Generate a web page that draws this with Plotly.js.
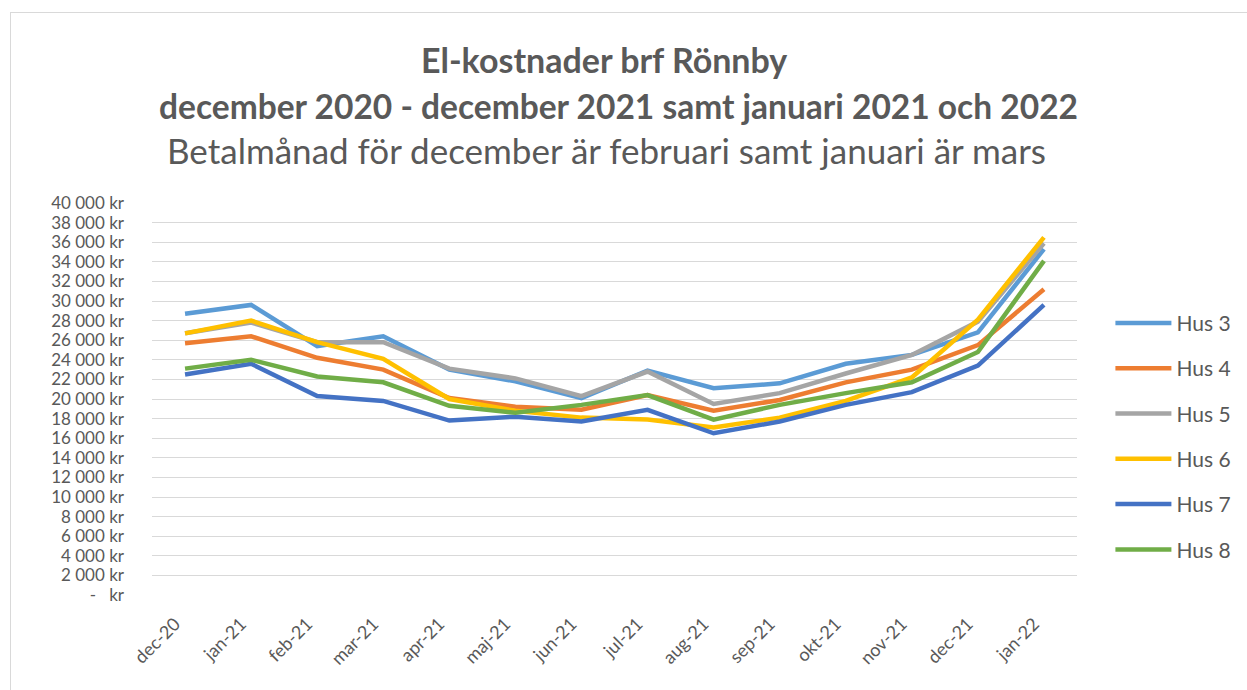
<!DOCTYPE html>
<html>
<head>
<meta charset="utf-8">
<script src="https://cdn.plot.ly/plotly-3.0.1.min.js"></script>
<style>
  html, body { margin:0; padding:0; width:1247px; height:690px; overflow:hidden; background:#fff; }
  #frame { position:absolute; left:10px; top:12px; width:1400px; height:900px; border:1px solid #d9d9d9; box-sizing:border-box; }
  #chart { position:absolute; left:0; top:0; width:1247px; height:690px; }
</style>
</head>
<body>
<div id="frame"></div>
<div id="chart"></div>
<script>
const months = ["dec-20","jan-21","feb-21","mar-21","apr-21","maj-21","jun-21","jul-21","aug-21","sep-21","okt-21","nov-21","dec-21","jan-22"];
const hus3 = [28700, 29600, 25400, 26400, 23000, 21800, 20100, 22900, 21100, 21600, 23600, 24500, 26800, 35300];
const hus4 = [25700, 26400, 24200, 23000, 20100, 19200, 18900, 20400, 18800, 19900, 21700, 23000, 25500, 31200];
const hus5 = [26700, 27800, 25800, 25800, 23100, 22100, 20300, 22800, 19500, 20600, 22600, 24500, 27900, 35900];
const hus6 = [26700, 28000, 25800, 24100, 20000, 18800, 18100, 17900, 17100, 18100, 19800, 22200, 28100, 36500];
const hus7 = [22500, 23600, 20300, 19800, 17800, 18200, 17700, 18900, 16500, 17700, 19400, 20700, 23400, 29600];
const hus8 = [23100, 24000, 22300, 21700, 19300, 18600, 19400, 20400, 17900, 19400, 20600, 21700, 24800, 34100];
const seriesNames = ["Hus 3","Hus 4","Hus 5","Hus 6","Hus 7","Hus 8"];
const seriesValues = [hus3, hus4, hus5, hus6, hus7, hus8];
const colors = ["#5B9BD5","#ED7D31","#A5A5A5","#FFC000","#4472C4","#70AD47"];
const yTickVals = [0,2000,4000,6000,8000,10000,12000,14000,16000,18000,20000,22000,24000,26000,28000,30000,32000,34000,36000,38000,40000];
const yTickText = ["-   kr","2 000 kr","4 000 kr","6 000 kr","8 000 kr","10 000 kr","12 000 kr","14 000 kr","16 000 kr","18 000 kr","20 000 kr","22 000 kr","24 000 kr","26 000 kr","28 000 kr","30 000 kr","32 000 kr","34 000 kr","36 000 kr","38 000 kr","40 000 kr"];

const font = "Lato, 'Open Sans', sans-serif";
const traces = seriesNames.map((n,i) => ({
  type:'scatter', mode:'lines', name:n, x:months, y:seriesValues[i],
  line:{color:colors[i], width:4.5, shape:'linear'},
  legendgroup:'g'+i, hoverinfo:'skip'
}));

const layout = {
  width:1247, height:690,
  paper_bgcolor:'rgba(0,0,0,0)', plot_bgcolor:'rgba(0,0,0,0)',
  margin:{l:152, r:169, t:203, b:95},
  font:{family:font, color:'#595959', size:16},
  showlegend:true,
  legend:{x:1.035, xanchor:'left', y:0.405, yanchor:'middle', tracegroupgap:15, itemwidth:56,
          font:{family:font, size:21, color:'#595959'}, bgcolor:'rgba(0,0,0,0)'},
  xaxis:{type:'category', range:[-0.5,13.5], tickangle:-45, showgrid:false, zeroline:false,
         showline:false, ticks:'', ticklabelstandoff:14, ticklabelshift:-10,
         tickfont:{family:font, size:18, color:'#595959'}},
  yaxis:{range:[0,40000], tickvals:yTickVals, ticktext:yTickText, showgrid:true, gridcolor:'#d9d9d9',
         gridwidth:1, zeroline:false, showline:false, ticks:'', ticklabelstandoff:27,
         tickfont:{family:font, size:17, color:'#595959'}},
  annotations:[
    {text:'<b>El-kostnader brf Rönnby</b>', xref:'paper', yref:'paper', x:(604-152)/926, y:1, xanchor:'center', yanchor:'middle',
     yshift:(203-59), showarrow:false, font:{family:font, size:34, color:'#595959'}},
    {text:'<b>december 2020 - december 2021 samt januari 2021 och 2022</b>', xref:'paper', yref:'paper', x:(619-152)/926, y:1, xanchor:'center', yanchor:'middle',
     yshift:(203-106), showarrow:false, font:{family:font, size:33.5, color:'#595959'}},
    {text:'Betalmånad för december är februari samt januari är mars', xref:'paper', yref:'paper', x:(607-152)/926, y:1, xanchor:'center', yanchor:'middle',
     yshift:(203-150), showarrow:false, font:{family:font, size:35, color:'#595959'}}
  ]
};
Plotly.newPlot('chart', traces, layout, {displayModeBar:false, staticPlot:true});
</script>
</body>
</html>
